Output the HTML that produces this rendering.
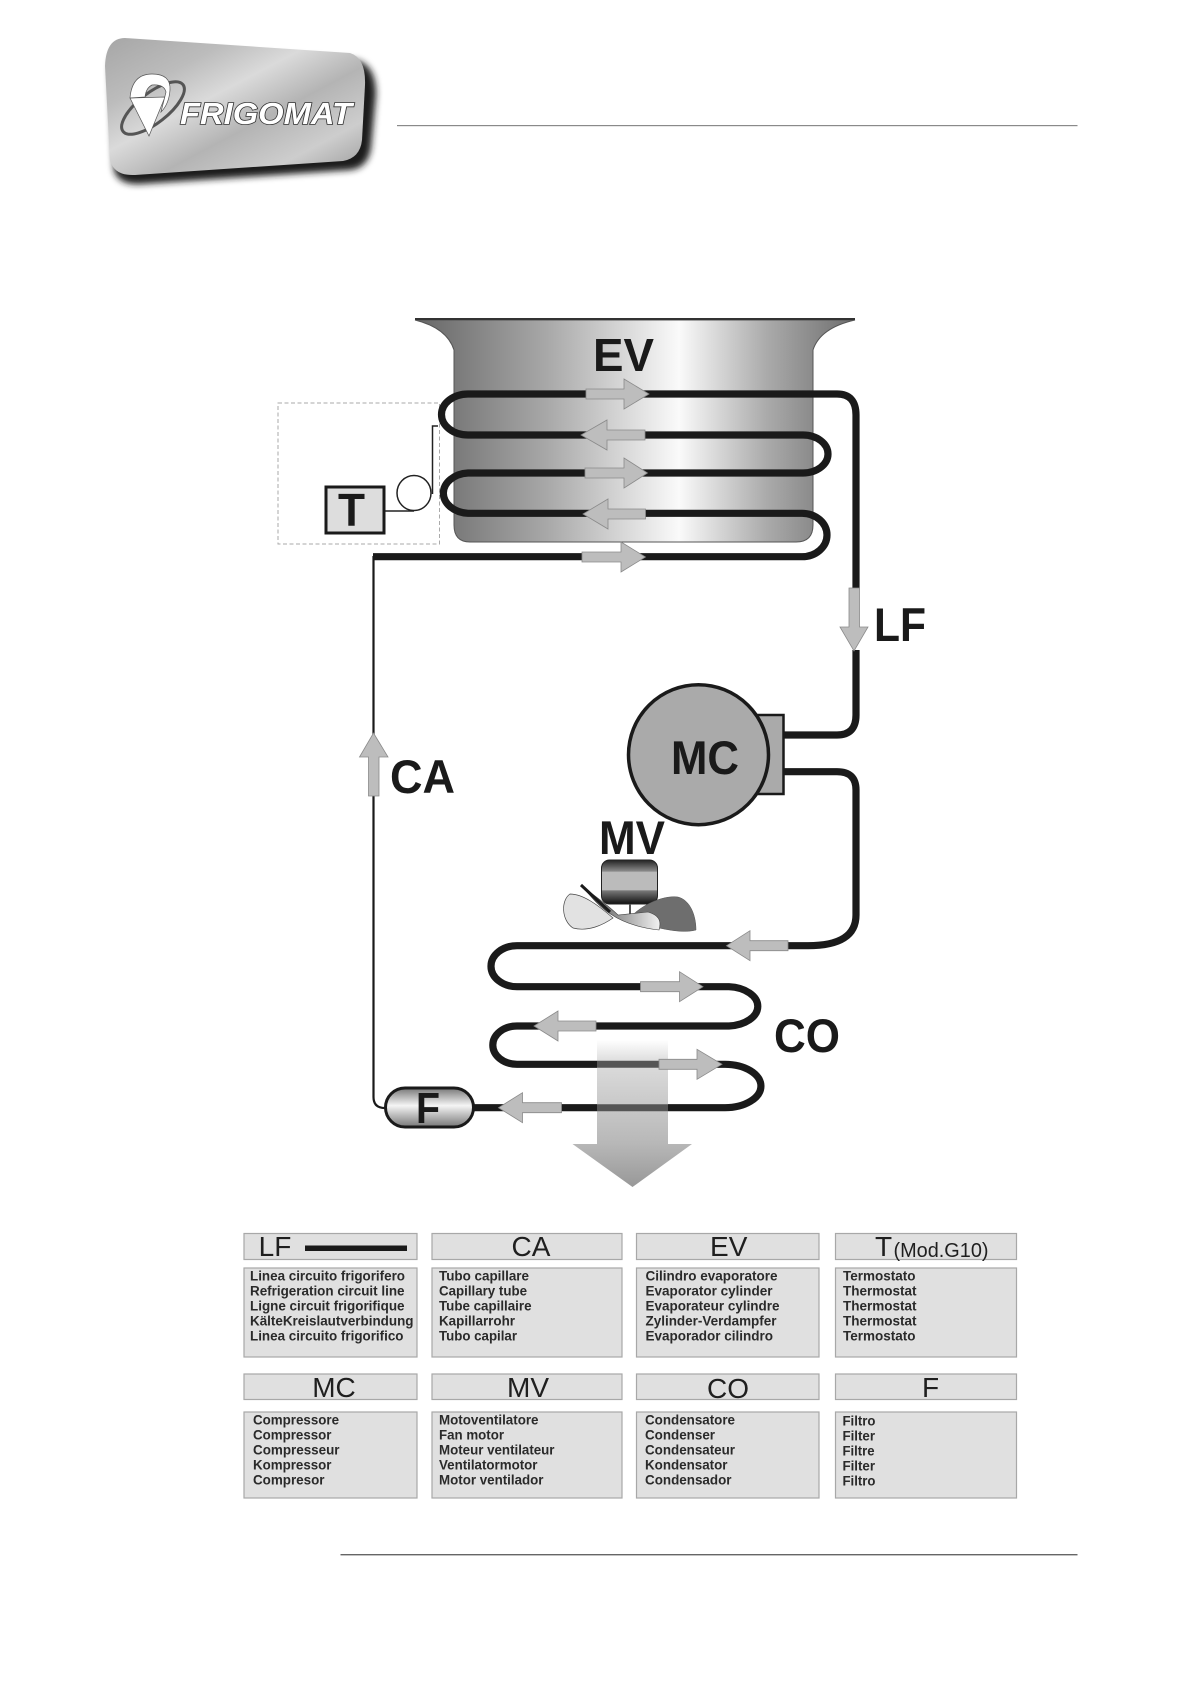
<!DOCTYPE html>
<html><head><meta charset="utf-8"><style>
html,body{margin:0;padding:0;background:#fff}
svg{display:block}
text{font-family:"Liberation Sans",sans-serif}
.b{font-weight:bold;fill:#1a1a1a}
.h{font-size:28px;fill:#1f1f1f;text-anchor:middle}
.t{font-size:13.4px;font-weight:bold;fill:#2a2a2a}
.box{fill:#e0e0e0;stroke:#a8a8a8;stroke-width:1.2}
.a{fill:#bdbdbd;stroke:#8a8a8a;stroke-width:.8}
.p{fill:none;stroke:#1a1a1a;stroke-width:7.2}
</style></head><body>
<svg width="1190" height="1684" viewBox="0 0 1190 1684" xmlns="http://www.w3.org/2000/svg">
<defs>
<linearGradient id="bowl" x1="0" x2="1" y1="0" y2="0"><stop offset="0" stop-color="#666"/><stop offset=".3" stop-color="#a8a8a8"/><stop offset=".6" stop-color="#fafafa"/><stop offset=".8" stop-color="#aaa"/><stop offset="1" stop-color="#6e6e6e"/></linearGradient>
<linearGradient id="plate" x1="0" y1="0" x2="1" y2="1"><stop offset="0" stop-color="#a6a6a6"/><stop offset=".25" stop-color="#bcbcbc"/><stop offset=".42" stop-color="#dadada"/><stop offset=".6" stop-color="#b4b4b4"/><stop offset=".8" stop-color="#cdcdcd"/><stop offset="1" stop-color="#9a9a9a"/></linearGradient>
<linearGradient id="big" x1="0" x2="0" y1="0" y2="1"><stop offset="0" stop-color="#fff"/><stop offset=".15" stop-color="#dcdcdc"/><stop offset=".7" stop-color="#b8b8b8"/><stop offset="1" stop-color="#989898"/></linearGradient>
<linearGradient id="fil" x1="0" x2="0" y1="0" y2="1"><stop offset="0" stop-color="#777"/><stop offset=".45" stop-color="#f5f5f5"/><stop offset="1" stop-color="#777"/></linearGradient>
<linearGradient id="mot" x1="0" x2="0" y1="0" y2="1"><stop offset="0" stop-color="#222"/><stop offset=".25" stop-color="#888"/><stop offset=".28" stop-color="#bbb"/><stop offset=".68" stop-color="#bbb"/><stop offset=".7" stop-color="#777"/><stop offset="1" stop-color="#111"/></linearGradient>
<linearGradient id="bl" x1="0" x2="1" y1="0" y2="0"><stop offset="0" stop-color="#444"/><stop offset="1" stop-color="#f2f2f2"/></linearGradient>
<filter id="sh" x="-10%" y="-10%" width="125%" height="130%"><feGaussianBlur stdDeviation="3.5"/></filter>
</defs>

<!-- logo -->
<path d="M128,46 L355,60 Q376,64 376,95 L371,148 Q368,168 350,170 L140,184 Q118,185 114,170 L110,72 Q110,46 128,46Z" fill="#1c1c1c" filter="url(#sh)"/>
<path d="M125,38 L350,53 Q366,58 365,85 L362,140 Q360,158 343,161 L135,175 Q114,176 110,160 L105,66 Q106,38 125,38Z" fill="url(#plate)"/>
<ellipse cx="153" cy="108" rx="38" ry="15" transform="rotate(-38 153 108)" fill="none" stroke="#555" stroke-width="3"/>
<path d="M130,98 L165,97 L149,136Z" fill="#fff" stroke="#555" stroke-width=".7"/>
<path d="M130,98 Q132,74 152,74 Q171,74 170,90 Q169,104 161,112 L166,92 Q164,84 152,85 Q146,88 145,97Z" fill="#fff" stroke="#555" stroke-width=".7"/>
<text x="180" y="124" font-size="31" font-weight="bold" font-style="italic" textLength="172" lengthAdjust="spacingAndGlyphs" fill="#fff" stroke="#333" stroke-width="1.6" paint-order="stroke">FRIGOMAT</text>
<rect x="397" y="125" width="680.5" height="1.2" fill="#8a8a8a"/>
<rect x="340.5" y="1554" width="737" height="1.4" fill="#666"/>

<!-- dashed box -->
<rect x="278" y="403" width="161.5" height="141" fill="none" stroke="#aaa" stroke-width="1" stroke-dasharray="4 2.5"/>

<!-- bowl -->
<path d="M415,320 H855 Q820,328 813,350 V525 Q813,542 796,542 H470 Q454,542 454,525 V350 Q447,328 415,320Z" fill="url(#bowl)" stroke="#555" stroke-width="1"/>
<path d="M415,319 H855" stroke="#333" stroke-width="2"/>
<text x="593" y="371" class="b" font-size="46" textLength="61" lengthAdjust="spacingAndGlyphs">EV</text>

<!-- thermostat -->
<rect x="326" y="487" width="58" height="46" fill="#ddd" stroke="#1a1a1a" stroke-width="3"/>
<text x="338" y="526" class="b" font-size="46" textLength="27" lengthAdjust="spacingAndGlyphs">T</text>
<ellipse cx="414" cy="493" rx="17" ry="17.5" fill="#fff" stroke="#222" stroke-width="1.5"/>
<path d="M385,511 H414 M432.5,494 V426 H438" fill="none" stroke="#222" stroke-width="1.5"/>

<!-- pipes -->
<path class="p" d="M856,590 V415 Q856,394 837,394 H468 A26.5 20.5 0 0 0 468,435 H803 A25 19 0 0 1 803,473 H468 A26.5 20.2 0 0 0 468,513.3 H802 A25 21.7 0 0 1 802,556.7 H373"/>
<path class="p" d="M856,650 V715 Q856,735 837,735 H784"/>
<path class="p" d="M784,771.7 H837 Q856,771.7 856,790 V915 Q856,945.7 808,945.7 H517 A26 20.5 0 0 0 517,986.7 H729 A31 19.7 0 0 1 729,1026 H517 A24 19 0 0 0 517,1064.3 H725 A36 21.7 0 0 1 725,1107.7 H472"/>
<path d="M373.5,556 V1097 Q373.5,1108 385,1108" fill="none" stroke="#1a1a1a" stroke-width="2.2"/>

<!-- big arrow -->
<polygon points="597,1040 668,1040 668,1144 692,1144 632.5,1187 572.5,1144 597,1144" fill="url(#big)"/>
<path d="M597,1064.3 H660 M597,1107.7 H668" stroke="#555" stroke-width="7"/>

<!-- compressor -->
<rect x="738" y="715" width="45.5" height="79" fill="#aaa" stroke="#1a1a1a" stroke-width="2.5"/>
<circle cx="698.5" cy="754.7" r="70" fill="#aaa" stroke="#1a1a1a" stroke-width="3.5"/>
<text x="671" y="774" class="b" font-size="47" textLength="68" lengthAdjust="spacingAndGlyphs">MC</text>

<!-- fan -->
<text x="599" y="854" class="b" font-size="47" textLength="66" lengthAdjust="spacingAndGlyphs">MV</text>
<rect x="601.5" y="860" width="56" height="44" rx="8" fill="url(#mot)" stroke="#222" stroke-width="1"/>
<path d="M630,904 V914" stroke="#555" stroke-width="2"/>
<path d="M628,920 C640,905 663,895 678,897 C690,900 696,915 696,930 C678,935 648,925 628,920Z" fill="#6e6e6e" stroke="#555" stroke-width=".5"/>
<path d="M613,918 C598,905 583,894 570,894 C561,900 561,920 573,928 C588,932 603,925 613,918Z" fill="#e2e2e2" stroke="#444" stroke-width=".7"/>
<path d="M581,885 C598,905 613,925 659,930 C662,920 658,915 648,912 L618,915 C608,905 593,895 581,885Z" fill="url(#bl)" stroke="#444" stroke-width=".6"/>
<path d="M581,885 L610,912" stroke="#1a1a1a" stroke-width="3"/>

<!-- filter -->
<rect x="385.5" y="1088" width="88" height="39" rx="19.5" fill="url(#fil)" stroke="#1a1a1a" stroke-width="3"/>
<text x="416" y="1123" class="b" font-size="44" textLength="24" lengthAdjust="spacingAndGlyphs">F</text>

<!-- flow arrows -->
<g class="a">
<polygon points="586,389 624,389 624,379 649,394 624,409 624,399 586,399"/>
<polygon points="645,430 607,430 607,420 581,435 607,450 607,440 645,440"/>
<polygon points="585,468 624,468 624,458 647.5,473 624,488 624,478 585,478"/>
<polygon points="645.5,509 608,509 608,499 583,514 608,529 608,519 645.5,519"/>
<polygon points="582,552 621,552 621,542 645.5,557 621,572 621,562 582,562"/>
<polygon points="849,588 859.5,588 859.5,627 868,627 854,651 840,627 849,627"/>
<polygon points="368.5,796 379,796 379,757 388,757 373.5,733 359.5,757 368.5,757"/>
<polygon points="788,940.7 750,940.7 750,930.7 726.5,945.7 750,960.7 750,950.7 788,950.7"/>
<polygon points="640.5,981.7 679.5,981.7 679.5,971.7 703,986.7 679.5,1001.7 679.5,991.7 640.5,991.7"/>
<polygon points="596,1021 558,1021 558,1011 534,1026 558,1041 558,1031 596,1031"/>
<polygon points="659,1059.3 697,1059.3 697,1049.3 722,1064.3 697,1079.3 697,1069.3 659,1069.3"/>
<polygon points="561.5,1102.7 522.5,1102.7 522.5,1092.7 498.5,1107.7 522.5,1122.7 522.5,1112.7 561.5,1112.7"/>
</g>

<!-- big labels -->
<text x="874" y="641" class="b" font-size="47" textLength="52" lengthAdjust="spacingAndGlyphs">LF</text>
<text x="390" y="793" class="b" font-size="47" textLength="65" lengthAdjust="spacingAndGlyphs">CA</text>
<text x="774" y="1052" class="b" font-size="47" textLength="66" lengthAdjust="spacingAndGlyphs">CO</text>

<!-- legend -->
<rect class="box" x="244" y="1233.5" width="173" height="26"/>
<rect class="box" x="432" y="1233.5" width="190" height="26"/>
<rect class="box" x="636.5" y="1233.5" width="182.5" height="26"/>
<rect class="box" x="835.5" y="1233.5" width="181" height="26"/>
<rect class="box" x="244" y="1268" width="173" height="89"/>
<rect class="box" x="432" y="1268" width="190" height="89"/>
<rect class="box" x="636.5" y="1268" width="182.5" height="89"/>
<rect class="box" x="835.5" y="1268" width="181" height="89"/>
<rect class="box" x="244" y="1374" width="173" height="25.5"/>
<rect class="box" x="432" y="1374" width="190" height="25.5"/>
<rect class="box" x="636.5" y="1374" width="182.5" height="25.5"/>
<rect class="box" x="835.5" y="1374" width="181" height="25.5"/>
<rect class="box" x="244" y="1412" width="173" height="86"/>
<rect class="box" x="432" y="1412" width="190" height="86"/>
<rect class="box" x="636.5" y="1412" width="182.5" height="86"/>
<rect class="box" x="835.5" y="1412" width="181" height="86"/>

<text class="h" x="275" y="1256">LF</text>
<rect x="305" y="1245.5" width="102" height="5.5" fill="#1a1a1a"/>
<text class="h" x="531" y="1256">CA</text>
<text class="h" x="728.7" y="1256">EV</text>
<text class="h" x="883.5" y="1256">T</text>
<text x="893.5" y="1257" font-size="20" fill="#1f1f1f" textLength="95" lengthAdjust="spacingAndGlyphs">(Mod.G10)</text>
<text class="h" x="334" y="1397">MC</text>
<text class="h" x="528" y="1397">MV</text>
<text class="h" x="728" y="1398">CO</text>
<text class="h" x="930.5" y="1397">F</text>

<g class="t">
<text x="250" y="1280.5" textLength="155" lengthAdjust="spacingAndGlyphs">Linea circuito frigorifero</text>
<text x="250" y="1295.5" textLength="154.5" lengthAdjust="spacingAndGlyphs">Refrigeration circuit line</text>
<text x="250" y="1310.5" textLength="154.5" lengthAdjust="spacingAndGlyphs">Ligne circuit frigorifique</text>
<text x="250" y="1325.5" textLength="163.5" lengthAdjust="spacingAndGlyphs">KälteKreislautverbindung</text>
<text x="250" y="1340.5" textLength="153.5" lengthAdjust="spacingAndGlyphs">Linea circuito frigorifico</text>

<text x="439" y="1280.5" textLength="90" lengthAdjust="spacingAndGlyphs">Tubo capillare</text>
<text x="439" y="1295.5" textLength="88" lengthAdjust="spacingAndGlyphs">Capillary tube</text>
<text x="439" y="1310.5" textLength="92.5" lengthAdjust="spacingAndGlyphs">Tube capillaire</text>
<text x="439" y="1325.5" textLength="76" lengthAdjust="spacingAndGlyphs">Kapillarrohr</text>
<text x="439" y="1340.5" textLength="78" lengthAdjust="spacingAndGlyphs">Tubo capilar</text>

<text x="645.5" y="1280.5" textLength="132" lengthAdjust="spacingAndGlyphs">Cilindro evaporatore</text>
<text x="645.5" y="1295.5" textLength="127" lengthAdjust="spacingAndGlyphs">Evaporator cylinder</text>
<text x="645.5" y="1310.5" textLength="134" lengthAdjust="spacingAndGlyphs">Evaporateur cylindre</text>
<text x="645.5" y="1325.5" textLength="131" lengthAdjust="spacingAndGlyphs">Zylinder-Verdampfer</text>
<text x="645.5" y="1340.5" textLength="127.5" lengthAdjust="spacingAndGlyphs">Evaporador cilindro</text>

<text x="843" y="1280.5" textLength="72.5" lengthAdjust="spacingAndGlyphs">Termostato</text>
<text x="843" y="1295.5" textLength="73.5" lengthAdjust="spacingAndGlyphs">Thermostat</text>
<text x="843" y="1310.5" textLength="73.5" lengthAdjust="spacingAndGlyphs">Thermostat</text>
<text x="843" y="1325.5" textLength="73.5" lengthAdjust="spacingAndGlyphs">Thermostat</text>
<text x="843" y="1340.5" textLength="72.5" lengthAdjust="spacingAndGlyphs">Termostato</text>

<text x="253" y="1424.5" textLength="86" lengthAdjust="spacingAndGlyphs">Compressore</text>
<text x="253" y="1439.5" textLength="78.5" lengthAdjust="spacingAndGlyphs">Compressor</text>
<text x="253" y="1454.5" textLength="86.5" lengthAdjust="spacingAndGlyphs">Compresseur</text>
<text x="253" y="1469.5" textLength="78.5" lengthAdjust="spacingAndGlyphs">Kompressor</text>
<text x="253" y="1484.5" textLength="71.5" lengthAdjust="spacingAndGlyphs">Compresor</text>

<text x="439" y="1424.5" textLength="99.5" lengthAdjust="spacingAndGlyphs">Motoventilatore</text>
<text x="439" y="1439.5" textLength="65" lengthAdjust="spacingAndGlyphs">Fan motor</text>
<text x="439" y="1454.5" textLength="115.5" lengthAdjust="spacingAndGlyphs">Moteur ventilateur</text>
<text x="439" y="1469.5" textLength="98.5" lengthAdjust="spacingAndGlyphs">Ventilatormotor</text>
<text x="439" y="1484.5" textLength="104.5" lengthAdjust="spacingAndGlyphs">Motor ventilador</text>

<text x="645" y="1424.5" textLength="90" lengthAdjust="spacingAndGlyphs">Condensatore</text>
<text x="645" y="1439.5" textLength="70" lengthAdjust="spacingAndGlyphs">Condenser</text>
<text x="645" y="1454.5" textLength="90" lengthAdjust="spacingAndGlyphs">Condensateur</text>
<text x="645" y="1469.5" textLength="82.5" lengthAdjust="spacingAndGlyphs">Kondensator</text>
<text x="645" y="1484.5" textLength="86.5" lengthAdjust="spacingAndGlyphs">Condensador</text>

<text x="842.5" y="1425.5" textLength="33" lengthAdjust="spacingAndGlyphs">Filtro</text>
<text x="842.5" y="1440.5" textLength="32.5" lengthAdjust="spacingAndGlyphs">Filter</text>
<text x="842.5" y="1455.5" textLength="32" lengthAdjust="spacingAndGlyphs">Filtre</text>
<text x="842.5" y="1470.5" textLength="32.5" lengthAdjust="spacingAndGlyphs">Filter</text>
<text x="842.5" y="1485.5" textLength="33" lengthAdjust="spacingAndGlyphs">Filtro</text>
</g>
</svg>
</body></html>
